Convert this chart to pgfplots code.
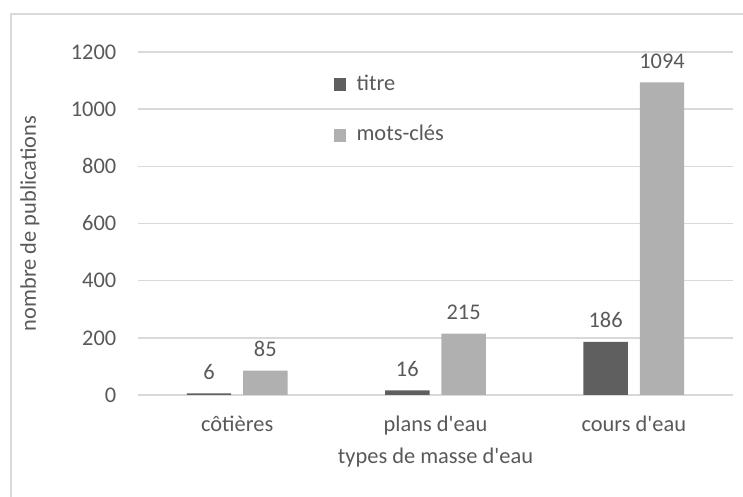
\documentclass[border=0pt]{standalone}
\usepackage{fontspec}
\setmainfont{Carlito}
\usepackage{pgfplots}
\pgfplotsset{compat=1.18}
\definecolor{txt}{HTML}{595959}
\definecolor{grd}{HTML}{D9D9D9}
\definecolor{dark}{HTML}{5F5F5F}
\definecolor{light}{HTML}{B0B0B0}
\begin{document}
\fontsize{11pt}{13pt}\selectfont
\begin{tikzpicture}
\path[use as bounding box] (0,0) rectangle (371.5pt,248.5pt);
\draw[grd, line width=0.8pt] (5.5pt,0) -- (5.5pt,241.5pt) -- (372pt,241.5pt);
\begin{axis}[
  at={(69pt,51pt)}, anchor=south west,
  scale only axis, width=297.5pt, height=171.5pt,
  xmin=-0.5, xmax=2.5, ymin=0, ymax=1200,
  ytick={0,200,...,1200},
  xtick={0,1,2}, xticklabels={côtières,plans d\textquotesingle eau,cours d\textquotesingle eau},
  axis line style={draw=none},
  ymajorgrids, grid style={grd, line width=0.8pt},
  major tick length=0pt,
  tick label style={font=\fontsize{11.2pt}{13pt}\selectfont, text=txt},
  /pgf/number format/assume math mode=true,
  /pgf/number format/1000 sep={},
  yticklabel style={xshift=-7pt},
  xticklabel style={yshift=-6.5pt},
  xlabel={types de masse d\textquotesingle eau},
  ylabel={nombre de publications},
  label style={font=\fontsize{11.2pt}{13pt}\selectfont, text=txt},
  xlabel style={at={(axis description cs:0.5,0)}, anchor=center, yshift=-31.5pt},
  ylabel style={at={(axis description cs:-0.1815,0.5)}, anchor=center, rotate=0},
  ybar, bar width=0.224,
  nodes near coords,
  nodes near coords style={font=\fontsize{11.2pt}{13pt}\selectfont, text=txt, anchor=south, yshift=3pt},
  legend style={draw=none, fill=none, at={(0.328,0.947)}, anchor=north west,
    font=\fontsize{11.2pt}{13pt}\selectfont, text=txt, row sep=12pt, inner sep=0pt,
    /tikz/every even column/.append style={column sep=0pt}},
  legend image code/.code={\fill (0pt,-3.4pt) rectangle (6.4pt,3pt); \path (9.5pt,0);},
  legend cell align=left,
]
\addplot[fill=dark, draw=none, bar shift=-0.142] coordinates {(0,6) (1,16) (2,186)};
\addplot[fill=light, draw=none, bar shift=0.142] coordinates {(0,85) (1,215) (2,1094)};
\legend{titre, mots-clés}
\end{axis}
\end{tikzpicture}
\end{document}
